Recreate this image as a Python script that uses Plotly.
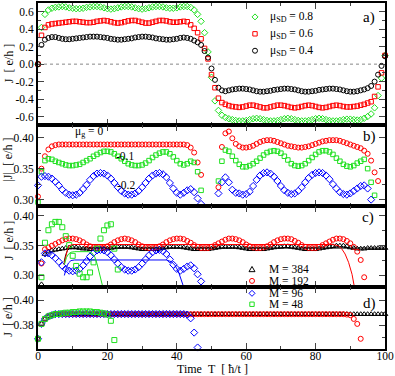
import plotly.graph_objects as go

# ---------------- data ----------------
T = list(range(0, 101))  # time grid, hbar/t

# panel a) current J for three mu_SD values
A_GREEN_08 = [
    0.00, 0.42, 0.57, 0.62, 0.64, 0.65, 0.655, 0.66, 0.655, 0.645,
    0.64, 0.635, 0.635, 0.64, 0.65, 0.655, 0.66, 0.66, 0.655, 0.645,
    0.635, 0.63, 0.635, 0.645, 0.655, 0.66, 0.66, 0.655, 0.645, 0.635,
    0.63, 0.635, 0.645, 0.655, 0.66, 0.66, 0.655, 0.645, 0.64, 0.64,
    0.645, 0.655, 0.66, 0.66, 0.65, 0.62, 0.57, 0.49, 0.36, 0.14,
    -0.15, -0.42, -0.53, -0.585, -0.61, -0.625, -0.635, -0.645, -0.65, -0.65,
    -0.645, -0.635, -0.625, -0.62, -0.625, -0.635, -0.645, -0.65, -0.65, -0.645,
    -0.635, -0.625, -0.62, -0.625, -0.635, -0.645, -0.65, -0.65, -0.645, -0.635,
    -0.625, -0.62, -0.625, -0.635, -0.645, -0.65, -0.65, -0.645, -0.635, -0.63,
    -0.63, -0.635, -0.64, -0.635, -0.62, -0.60, -0.57, -0.50, -0.36, -0.16,
    0.10]
A_RED_06 = [
    0.00, 0.33, 0.42, 0.45, 0.46, 0.465, 0.47, 0.475, 0.48, 0.485,
    0.49, 0.49, 0.485, 0.48, 0.475, 0.475, 0.48, 0.49, 0.495, 0.50,
    0.495, 0.485, 0.475, 0.47, 0.475, 0.485, 0.495, 0.50, 0.50, 0.49,
    0.48, 0.47, 0.47, 0.48, 0.49, 0.50, 0.50, 0.495, 0.485, 0.48,
    0.48, 0.485, 0.49, 0.485, 0.45, 0.41, 0.36, 0.29, 0.18, 0.06,
    -0.12, -0.27, -0.39, -0.44, -0.46, -0.475, -0.485, -0.49, -0.495, -0.49,
    -0.48, -0.47, -0.47, -0.48, -0.49, -0.50, -0.50, -0.49, -0.48, -0.47,
    -0.47, -0.475, -0.485, -0.495, -0.50, -0.495, -0.485, -0.475, -0.47, -0.475,
    -0.485, -0.495, -0.50, -0.495, -0.485, -0.475, -0.47, -0.475, -0.485, -0.49,
    -0.49, -0.485, -0.48, -0.47, -0.46, -0.445, -0.43, -0.37, -0.26, -0.10,
    0.10]
A_BLACK_04 = [
    0.00, 0.22, 0.28, 0.30, 0.31, 0.31, 0.30, 0.29, 0.285, 0.285,
    0.29, 0.295, 0.30, 0.305, 0.31, 0.315, 0.315, 0.315, 0.31, 0.305,
    0.30, 0.29, 0.285, 0.28, 0.28, 0.285, 0.29, 0.295, 0.305, 0.31,
    0.315, 0.315, 0.31, 0.305, 0.295, 0.29, 0.285, 0.28, 0.28, 0.285,
    0.29, 0.30, 0.305, 0.30, 0.29, 0.27, 0.25, 0.22, 0.15, 0.075,
    -0.05, -0.18, -0.27, -0.30, -0.31, -0.30, -0.29, -0.285, -0.28, -0.28,
    -0.285, -0.29, -0.30, -0.31, -0.315, -0.315, -0.31, -0.305, -0.295, -0.29,
    -0.285, -0.28, -0.28, -0.285, -0.29, -0.30, -0.31, -0.315, -0.315, -0.31,
    -0.305, -0.295, -0.29, -0.285, -0.28, -0.28, -0.285, -0.29, -0.30, -0.31,
    -0.315, -0.315, -0.31, -0.30, -0.29, -0.275, -0.25, -0.20, -0.12, -0.02,
    0.09]

# panel b) |J| for three mu_g values
B_RED_0 = [
    0.305, 0.35, 0.37, 0.381, 0.386, 0.388, 0.389, 0.389, 0.389, 0.389,
    0.389, 0.389, 0.389, 0.389, 0.389, 0.389, 0.389, 0.389, 0.389, 0.389,
    0.389, 0.389, 0.389, 0.389, 0.389, 0.389, 0.389, 0.389, 0.389, 0.389,
    0.389, 0.389, 0.389, 0.389, 0.389, 0.389, 0.389, 0.389, 0.389, 0.389,
    0.389, 0.389, 0.389, 0.388, 0.384, 0.376, 0.36, 0.34, None, None,
    None, None, 0.32, 0.385, 0.407, 0.41, 0.399, 0.39, 0.386, 0.384,
    0.384, 0.385, 0.387, 0.39, 0.393, 0.395, 0.396, 0.396, 0.395, 0.393,
    0.391, 0.389, 0.387, 0.386, 0.385, 0.384, 0.384, 0.385, 0.386, 0.388,
    0.390, 0.392, 0.394, 0.395, 0.396, 0.396, 0.396, 0.395, 0.393, 0.391,
    0.389, 0.387, 0.385, 0.383, 0.379, 0.374, 0.363, 0.344, 0.33]
B_GREEN_m01 = [
    0.296, 0.345, 0.363, 0.366, 0.365, 0.362, 0.36, 0.358, 0.356, 0.355,
    0.355, 0.356, 0.357, 0.36, 0.363, 0.366, 0.37, 0.373, 0.376, 0.378,
    0.378, 0.377, 0.374, 0.37, 0.366, 0.362, 0.358, 0.356, 0.355, 0.355,
    0.356, 0.359, 0.363, 0.368, 0.372, 0.375, 0.377, 0.377, 0.374, 0.369,
    0.363, 0.358, 0.356, 0.358, 0.362, 0.36, 0.345, 0.315, None, None,
    None, None, 0.33, 0.362, 0.38, 0.378, 0.37, 0.363, 0.357, 0.353,
    0.353, 0.355, 0.358, 0.362, 0.367, 0.372, 0.376, 0.378, 0.379, 0.378,
    0.375, 0.37, 0.364, 0.358, 0.355, 0.354, 0.355, 0.358, 0.363, 0.368,
    0.373, 0.377, 0.379, 0.379, 0.377, 0.373, 0.367, 0.362, 0.357, 0.354,
    0.353, 0.355, 0.359, 0.362, 0.365, 0.35, 0.328, 0.307]
B_BLUE_m02 = [
    0.323, 0.337, 0.338, 0.337, 0.334, 0.329, 0.323, 0.316, 0.311, 0.308,
    0.307, 0.308, 0.311, 0.317, 0.324, 0.332, 0.338, 0.342, 0.343, 0.342,
    0.339, 0.334, 0.327, 0.32, 0.314, 0.31, 0.308, 0.308, 0.31, 0.314,
    0.32, 0.327, 0.334, 0.339, 0.342, 0.343, 0.341, 0.336, 0.327, 0.318,
    0.311, 0.308, 0.311, 0.315, 0.317, 0.312, 0.302, 0.293, None, None,
    None, None, 0.31, 0.328, 0.336, 0.328, 0.316, 0.311, 0.31, 0.308,
    0.309, 0.313, 0.322, 0.332, 0.339, 0.343, 0.344, 0.342, 0.337, 0.33,
    0.322, 0.315, 0.311, 0.309, 0.31, 0.314, 0.32, 0.328, 0.335, 0.34,
    0.343, 0.344, 0.343, 0.339, 0.333, 0.325, 0.318, 0.312, 0.309, 0.308,
    0.31, 0.314, 0.318, 0.322, 0.323, 0.318, 0.30]

# panel c) J for several lead sizes M (markers) and the matching lines
C_M384 = [
    None, 0.285, 0.336, 0.34, 0.342, 0.343, 0.344, 0.345, 0.346, 0.347,
    0.347, 0.347, 0.346, 0.345, 0.345, 0.344, 0.344, 0.344, 0.344, 0.345,
    0.345, 0.346, 0.347, 0.348, 0.348, 0.348, 0.348, 0.347, 0.346, 0.345,
    0.344, 0.344, 0.344, 0.344, 0.344, 0.345, 0.346, 0.347, 0.348, 0.348,
    0.348, 0.348, 0.347, 0.346, 0.345, 0.344, 0.344, 0.344, 0.344, 0.344,
    0.345, 0.346, 0.347, 0.348, 0.348, 0.348, 0.348, 0.348, 0.347, 0.346,
    0.345, 0.344, 0.344, 0.344, 0.344, 0.344, 0.345, 0.346, 0.347, 0.348,
    0.348, 0.349, 0.349, 0.348, 0.347, 0.346, 0.345, 0.344, 0.344, 0.344,
    0.344, 0.345, 0.346, 0.347, 0.348, 0.349, 0.35, 0.35, 0.35, 0.349,
    0.347, 0.346, 0.345, 0.345, 0.345, 0.346, 0.346, 0.346, 0.346, 0.346,
    0.346]
C_M192 = [
    None, 0.32, 0.344, 0.347, 0.35, 0.353, 0.356, 0.359, 0.361, 0.362,
    0.362, 0.361, 0.359, 0.356, 0.352, 0.349, 0.347, 0.346, 0.346, 0.347,
    0.349, 0.352, 0.356, 0.359, 0.361, 0.362, 0.361, 0.359, 0.356, 0.352,
    0.349, 0.347, 0.346, 0.346, 0.347, 0.349, 0.352, 0.356, 0.359, 0.361,
    0.362, 0.362, 0.361, 0.358, 0.355, 0.351, 0.348, 0.346, 0.346, 0.346,
    0.348, 0.351, 0.354, 0.357, 0.36, 0.362, 0.362, 0.361, 0.359, 0.356,
    0.352, 0.349, 0.347, 0.346, 0.346, 0.347, 0.349, 0.352, 0.356, 0.359,
    0.361, 0.362, 0.362, 0.361, 0.358, 0.355, 0.351, 0.348, 0.346, 0.346,
    0.346, 0.348, 0.351, 0.354, 0.357, 0.36, 0.362, 0.362, 0.361, 0.358,
    0.354, 0.348, 0.34, 0.326, 0.297]
C_M96 = [
    None, 0.322, 0.337, 0.337, 0.334, 0.329, 0.323, 0.316, 0.311, 0.308,
    0.307, 0.308, 0.311, 0.317, 0.324, 0.332, 0.338, 0.342, 0.343, 0.342,
    0.339, 0.334, 0.327, 0.32, 0.314, 0.31, 0.308, 0.308, 0.31, 0.314,
    0.32, 0.327, 0.334, 0.339, 0.342, 0.343, 0.341, 0.336, 0.327, 0.318,
    0.311, 0.308, 0.311, 0.315, 0.317, 0.312, 0.302, 0.29]
C_M48 = [
    None, 0.297, 0.355, 0.376, 0.386, 0.39, 0.39, 0.381, 0.366, 0.351,
    0.333, 0.316, 0.303, 0.297, 0.297, 0.305, 0.322, 0.345, 0.362, 0.376,
    0.384, 0.386, 0.345, 0.31]

LINE384_T = [7.5, 8.0, 8.5, 9.0, 10.0, 40.0, 70.0, 100.0]
LINE384_J = [0.322, 0.335, 0.342, 0.345, 0.346, 0.346, 0.346, 0.346]
LINE192_T = [7.5, 8.0, 8.5, 9.0, 10.0, 40.0, 70.0, 85.0, 86.5, 87.5, 88.5, 89.5, 90.5, 91.2]
LINE192_J = [0.318, 0.333, 0.344, 0.350, 0.352, 0.352, 0.352, 0.352, 0.350, 0.345, 0.336, 0.322, 0.302, 0.28]
LINE96_T = [7.6, 8.2, 8.8, 9.5, 10.5, 25.0, 37.0, 38.5, 39.5, 40.5, 41.3, 42.0]
LINE96_J = [0.300, 0.314, 0.321, 0.325, 0.326, 0.326, 0.326, 0.323, 0.317, 0.306, 0.294, 0.28]
LINE48_T = [7.6, 8.2, 8.8, 9.5, 10.5, 14.5, 15.5, 16.3, 17.0, 17.7, 18.2, 18.7]
LINE48_J = [0.318, 0.330, 0.336, 0.339, 0.34, 0.34, 0.338, 0.332, 0.32, 0.302, 0.29, 0.28]

# panel d)
D_M384 = [
    0.369, 0.381, 0.385, 0.387, 0.388, 0.3888, 0.3888, 0.3888, 0.3888, 0.3888,
    0.3888, 0.3888, 0.3888, 0.3888, 0.3888, 0.3888, 0.3888, 0.3888, 0.3888, 0.3888,
    0.3888, 0.3888, 0.3888, 0.3888, 0.3888, 0.3888, 0.3888, 0.3888, 0.3888, 0.3888,
    0.3888, 0.3888, 0.3888, 0.3888, 0.3888, 0.3888, 0.3888, 0.3888, 0.3888, 0.3888,
    0.3888, 0.3888, 0.3888, 0.3888, 0.3888, 0.3888, 0.3888, 0.3888, 0.3888, 0.3888,
    0.3888, 0.3888, 0.3888, 0.3888, 0.3888, 0.3888, 0.3888, 0.3888, 0.3888, 0.3888,
    0.3888, 0.3888, 0.3888, 0.3888, 0.3888, 0.3888, 0.3888, 0.3888, 0.3888, 0.3888,
    0.3888, 0.3888, 0.3888, 0.3888, 0.3888, 0.3888, 0.3888, 0.3888, 0.3888, 0.3888,
    0.3888, 0.3888, 0.3888, 0.3888, 0.3888, 0.3888, 0.3888, 0.3888, 0.3888, 0.3888,
    0.3888, 0.3888, 0.3888, 0.3888, 0.3888, 0.3888, 0.3888, 0.3888, 0.3888, 0.3888,
    0.3888]
D_M192 = [
    0.369, 0.381, 0.385, 0.387, 0.388, 0.3888, 0.3888, 0.3888, 0.3888, 0.3888,
    0.3888, 0.3888, 0.3888, 0.3888, 0.3888, 0.3888, 0.3888, 0.3888, 0.3888, 0.3888,
    0.3888, 0.3888, 0.3888, 0.3888, 0.3888, 0.3888, 0.3888, 0.3888, 0.3888, 0.3888,
    0.3888, 0.3888, 0.3888, 0.3888, 0.3888, 0.3888, 0.3888, 0.3888, 0.3888, 0.3888,
    0.3888, 0.3888, 0.3888, 0.3888, 0.3888, 0.3888, 0.3888, 0.3888, 0.3888, 0.3888,
    0.3888, 0.3888, 0.3888, 0.3888, 0.3888, 0.3888, 0.3888, 0.3888, 0.3888, 0.3888,
    0.3888, 0.3888, 0.3888, 0.3888, 0.3888, 0.3888, 0.3888, 0.3888, 0.3888, 0.3888,
    0.3888, 0.3888, 0.3888, 0.3888, 0.3888, 0.3888, 0.3888, 0.3888, 0.3888, 0.3888,
    0.3888, 0.3888, 0.3888, 0.3888, 0.3888, 0.3888, 0.3888, 0.3888, 0.3888, 0.3885,
    0.388, 0.385, 0.381, 0.369]
D_M96 = [
    0.369, 0.381, 0.385, 0.387, 0.388, 0.3889, 0.3889, 0.3889, 0.3889, 0.3889,
    0.3889, 0.3889, 0.3889, 0.3889, 0.3889, 0.3889, 0.3889, 0.3889, 0.3889, 0.3889,
    0.3889, 0.3889, 0.3889, 0.3889, 0.3889, 0.3889, 0.3889, 0.3889, 0.3889, 0.3889,
    0.3889, 0.3889, 0.3889, 0.3889, 0.3889, 0.3889, 0.3889, 0.3889, 0.3889, 0.3889,
    0.3889, 0.3889, 0.3889, 0.3885, 0.3855, 0.374, 0.362]
D_M48 = [
    0.369, 0.381, 0.385, 0.387, 0.388, 0.389, 0.389, 0.3895, 0.39, 0.39,
    0.3905, 0.3905, 0.391, 0.391, 0.391, 0.391, 0.3905, 0.3905, 0.39, 0.3895,
    0.3885, 0.3835, 0.368]

X_TICKS = [0, 20, 40, 60, 80, 100]
A_TICKS = [-0.6, -0.4, -0.2, 0.0, 0.2, 0.4, 0.6]
A_TICKTEXT = ["-0.6", "-0.4", "-0.2", "0.0", "0.2", "0.4", "0.6"]
B_TICKS = [0.30, 0.35, 0.40]
C_TICKS = [0.30, 0.35, 0.40]
D_TICKS = [0.38, 0.40]

LEG_A = ["μ<sub>SD</sub> = 0.8", "μ<sub>SD</sub> = 0.6", "μ<sub>SD</sub> = 0.4"]
LEG_C = ["M = 384", "M = 192", "M = 96", "M = 48"]

# ---------------- styling ----------------
GREEN = "#1fe01f"
RED = "#ff0000"
BLUE = "#0000ff"
BLACK = "#000000"
FONT = "'Liberation Serif', 'Times New Roman', serif"

W, H = 395, 376
ML, MR, MT, MB = 38, 10, 1, 27
PW = W - ML - MR
PH = H - MT - MB


def fx(px):
    return (px - ML) / PW


def fy(py):
    return (H - MB - py) / PH


fig = go.Figure()


def add(x, y, sym, color, size, yax, name):
    xs = x[:len(y)]
    fig.add_trace(go.Scatter(
        x=xs, y=y, mode="markers", name=name, showlegend=False,
        xaxis="x" if yax == "y" else "x" + yax[1:], yaxis=yax,
        cliponaxis=False,
        marker=dict(symbol=sym, size=size, color=color, line=dict(width=1, color=color))))


def addline(x, y, color, yax):
    fig.add_trace(go.Scatter(
        x=x, y=y, mode="lines", showlegend=False,
        xaxis="x" + yax[1:], yaxis=yax, line=dict(color=color, width=1)))


# panel a
add(T, A_GREEN_08, "diamond-open", GREEN, 5, "y", "0.8")
add(T, A_RED_06, "square-open", RED, 4.5, "y", "0.6")
add(T, A_BLACK_04, "circle-open", BLACK, 5, "y", "0.4")
# panel b
add(T, B_RED_0, "circle-open", RED, 5, "y2", "0")
add(T, B_GREEN_m01, "square-open", GREEN, 4.5, "y2", "-0.1")
add(T, B_BLUE_m02, "diamond-open", BLUE, 5.5, "y2", "-0.2")
# panel c
add(T, C_M384, "triangle-up-open", BLACK, 5, "y3", "384")
add(T, C_M192, "circle-open", RED, 5, "y3", "192")
add(T, C_M96, "diamond-open", BLUE, 5.5, "y3", "96")
add(T, C_M48, "square-open", GREEN, 5, "y3", "48")
addline(LINE384_T, LINE384_J, BLACK, "y3")
addline(LINE192_T, LINE192_J, RED, "y3")
addline(LINE96_T, LINE96_J, BLUE, "y3")
addline(LINE48_T, LINE48_J, GREEN, "y3")
# panel d
add(T, D_M384, "triangle-up-open", BLACK, 5, "y4", "384")
add(T, D_M192, "circle-open", RED, 5, "y4", "192")
add(T, D_M96, "diamond-open", BLUE, 5.5, "y4", "96")
add(T, D_M48, "square-open", GREEN, 5, "y4", "48")

tickfont = dict(family=FONT, size=11.5, color="black")


def xax(anchor, labels):
    return dict(domain=[0, 1], anchor=anchor, range=[0, 100], showline=True, linecolor="black",
                linewidth=2, mirror="ticks", ticks="inside", ticklen=6, tickwidth=1,
                tickvals=X_TICKS, showticklabels=labels, tickfont=tickfont, showgrid=False,
                zeroline=False, ticklabelstandoff=-5,
                minor=dict(ticks="inside", ticklen=3, tickwidth=1, dtick=10, tick0=0, showgrid=False))


def yax(dom, rng, tv, tt, mdt, mt0):
    return dict(domain=dom, range=rng, showline=True, linecolor="black", linewidth=2,
                mirror="ticks", ticks="inside", ticklen=6, tickwidth=1, tickvals=tv, ticktext=tt,
                tickfont=tickfont, showgrid=False, zeroline=False, anchor=None,
                minor=dict(ticks="inside", ticklen=3, tickwidth=1, dtick=mdt, tick0=mt0, showgrid=False))


da = [fy(124), 1]
db = [fy(205), fy(124)]
dc = [fy(287), fy(205)]
dd = [0, fy(287)]

layout = dict(
    width=W, height=H, margin=dict(l=ML, r=MR, t=MT, b=MB),
    paper_bgcolor="white", plot_bgcolor="white",
    font=dict(family=FONT, size=12, color="black"),
    xaxis=xax("y", False), xaxis2=dict(xax("y2", False), matches="x"),
    xaxis3=dict(xax("y3", False), matches="x"), xaxis4=dict(xax("y4", True), matches="x"),
)
ya = yax(da, [-0.7, 0.7], A_TICKS, A_TICKTEXT, 0.1, 0)
ya["anchor"] = "x"
yb = yax(db, [0.29, 0.42], B_TICKS, ["%.2f" % v for v in B_TICKS], 0.025, 0.3)
yb["anchor"] = "x2"
yc = yax(dc, [0.28, 0.417], C_TICKS, ["%.2f" % v for v in C_TICKS], 0.025, 0.3)
yc["anchor"] = "x3"
yd = yax(dd, [0.3608, 0.4104], D_TICKS, ["%.2f" % v for v in D_TICKS], 0.01, 0.36)
yd["anchor"] = "x4"
layout.update(yaxis=ya, yaxis2=yb, yaxis3=yc, yaxis4=yd)
fig.update_layout(**layout)

# zero line in panel a
fig.add_shape(type="line", xref="x domain", yref="y", x0=0, x1=1, y0=0, y1=0,
              line=dict(color="#888888", width=1, dash="dot"), layer="below")

ann = []


def text(px, py, s, size=11.5, anchor="left", angle=0):
    ann.append(dict(x=fx(px), y=fy(py), xref="paper", yref="paper", text=s, showarrow=False,
                    xanchor=anchor, yanchor="middle", textangle=angle,
                    font=dict(family=FONT, size=size, color="black")))


NB = "\u00a0"
text(369, 16, "a)", 15, "center")
text(369, 135, "b)", 15, "center")
text(368, 217, "c)", 15, "center")
text(369, 303, "d)", 15, "center")
text(73, 131, "μ<sub>g</sub> = 0", 11.5)
text(125, 155, "-0.1", 11.5, "center")
text(126, 184, "-0.2", 11.5, "center")
text(8.5, 62, "J" + NB * 2 + "[" + NB + "e/h" + NB + "]", 12, "center", -90)
text(8.5, 158, "|J|" + NB * 2 + "[" + NB + "e/h" + NB + "]", 12, "center", -90)
text(8.5, 240, "J" + NB * 2 + "[" + NB + "e/h" + NB + "]", 12, "center", -90)
text(8.5, 317, "J" + NB * 2 + "[" + NB + "e/h" + NB + "]", 12, "center", -90)
text(212, 369, "Time" + NB * 2 + "T" + NB * 2 + "[" + NB + "ħ/t" + NB + "]", 12, "center")

leg_a_y = [15, 32, 49]
for s, yy in zip(LEG_A, leg_a_y):
    text(268, yy, s, 11.5)
leg_c_y = [269, 280.5, 293, 304]
for s, yy in zip(LEG_C, leg_c_y):
    text(267, yy, s, 11.5)
fig.update_layout(annotations=ann)


def key(px, py, kind, color):
    base = dict(xref="paper", yref="paper", xsizemode="pixel", ysizemode="pixel",
                xanchor=fx(px), yanchor=fy(py), line=dict(color=color, width=1))
    if kind == "circle":
        fig.add_shape(type="circle", x0=-2.5, x1=2.5, y0=-2.5, y1=2.5, **base)
    elif kind == "square":
        fig.add_shape(type="rect", x0=-2.2, x1=2.2, y0=-2.2, y1=2.2, **base)
    elif kind == "diamond":
        fig.add_shape(type="path", path="M0,3 L3,0 L0,-3 L-3,0 Z", **base)
    elif kind == "triangle":
        fig.add_shape(type="path", path="M-3,-2.2 L3,-2.2 L0,3 Z", **base)


key(255, 15, "diamond", GREEN)
key(255, 32, "square", RED)
key(255, 49, "circle", BLACK)
key(252, 269, "triangle", BLACK)
key(252, 280.5, "circle", RED)
key(252, 293, "diamond", BLUE)
key(252, 304, "square", GREEN)

fig.write_html("out.html", config={"displayModeBar": False},
               post_script="document.body.style.margin='0';document.body.style.overflow='hidden';")
